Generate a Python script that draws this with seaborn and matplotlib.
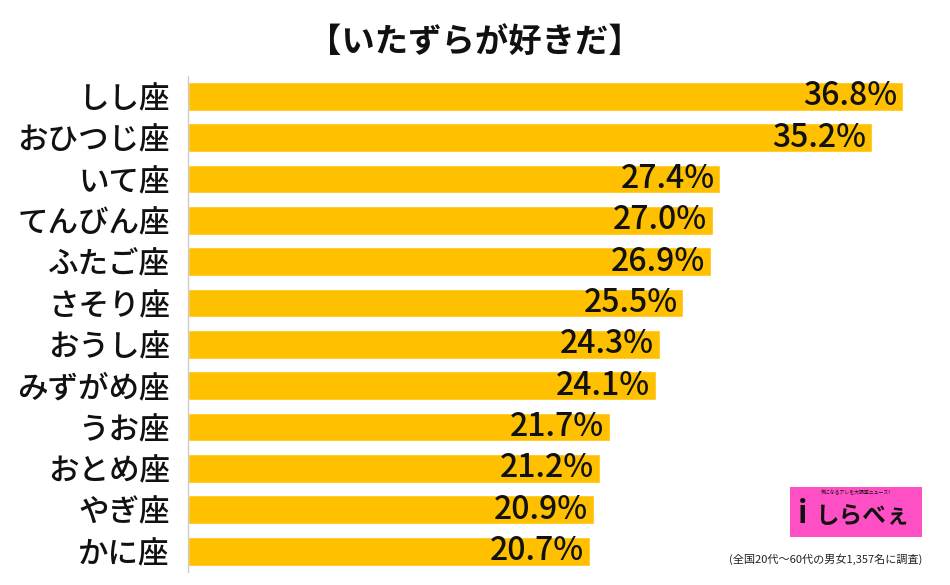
import pandas as pd
import matplotlib.pyplot as plt
import seaborn as sns
from matplotlib.patches import FancyBboxPatch

signs = ['しし座', 'おひつじ座', 'いて座', 'てんびん座', 'ふたご座', 'さそり座',
         'おうし座', 'みずがめ座', 'うお座', 'おとめ座', 'やぎ座', 'かに座']
values = [36.8, 35.2, 27.4, 27.0, 26.9, 25.5, 24.3, 24.1, 21.7, 21.2, 20.9, 20.7]
title = '【いたずらが好きだ】'
note = '(全国20代〜60代の男女1,357名に調査)'

df = pd.DataFrame({'sign': signs, 'pct': values})

sns.set_style('white')
plt.rcParams['font.family'] = ['Noto Sans CJK JP', 'DejaVu Sans']

fig = plt.figure(figsize=(9.5, 5.85), dpi=100)
ax = fig.add_axes([188 / 950, 0.0227, 715 / 950, 0.848])

sns.barplot(data=df, x='pct', y='sign', color='#FFC000', saturation=1,
            width=0.7, ax=ax)

ax.set_xlim(0, 36.8)
ax.set_ylim(11.5, -0.5)
ax.set_xlabel('')
ax.set_ylabel('')
ax.set_xticks([])
ax.tick_params(axis='y', length=0, pad=13)
for lbl in ax.get_yticklabels():
    lbl.set_fontsize(22)
    lbl.set_fontweight('medium')
    lbl.set_color('#111111')

for s in ['top', 'right', 'bottom']:
    ax.spines[s].set_visible(False)
ax.spines['left'].set_color('#cccccc')
ax.spines['left'].set_linewidth(1)

# value labels at the bar ends
for i, v in enumerate(values):
    ax.text(v - 0.3, i, f'{v:.1f}%', ha='right', va='center',
            fontsize=23, fontweight='medium', color='#111111')

fig.text(0.5, 1 - 42 / 585, title, ha='center', va='center',
         fontsize=24, fontweight='bold', color='#111111')
fig.text(922 / 950, 1 - 559 / 585, note, ha='right', va='center',
         fontsize=8, color='#222222')

# logo box
logo = FancyBboxPatch((790 / 950, 1 - 537 / 585), 132 / 950, 50 / 585,
                      boxstyle='square,pad=0', transform=fig.transFigure,
                      facecolor='#FF4FC4', edgecolor='none')
fig.patches.append(logo)
fig.text(856 / 950, 1 - 493 / 585, '気になるアレを大調査ニュース!', ha='center',
         va='center', fontsize=3.5, color='#111111')
fig.text(862 / 950, 1 - 516 / 585, 'しらべぇ', ha='center', va='center',
         fontsize=17, fontweight='bold', color='#111111')
fig.text(803 / 950, 1 - 514 / 585, 'i', ha='center', va='center',
         fontsize=22, fontweight='bold', color='#111111')

fig.savefig('out.png', dpi=100)
